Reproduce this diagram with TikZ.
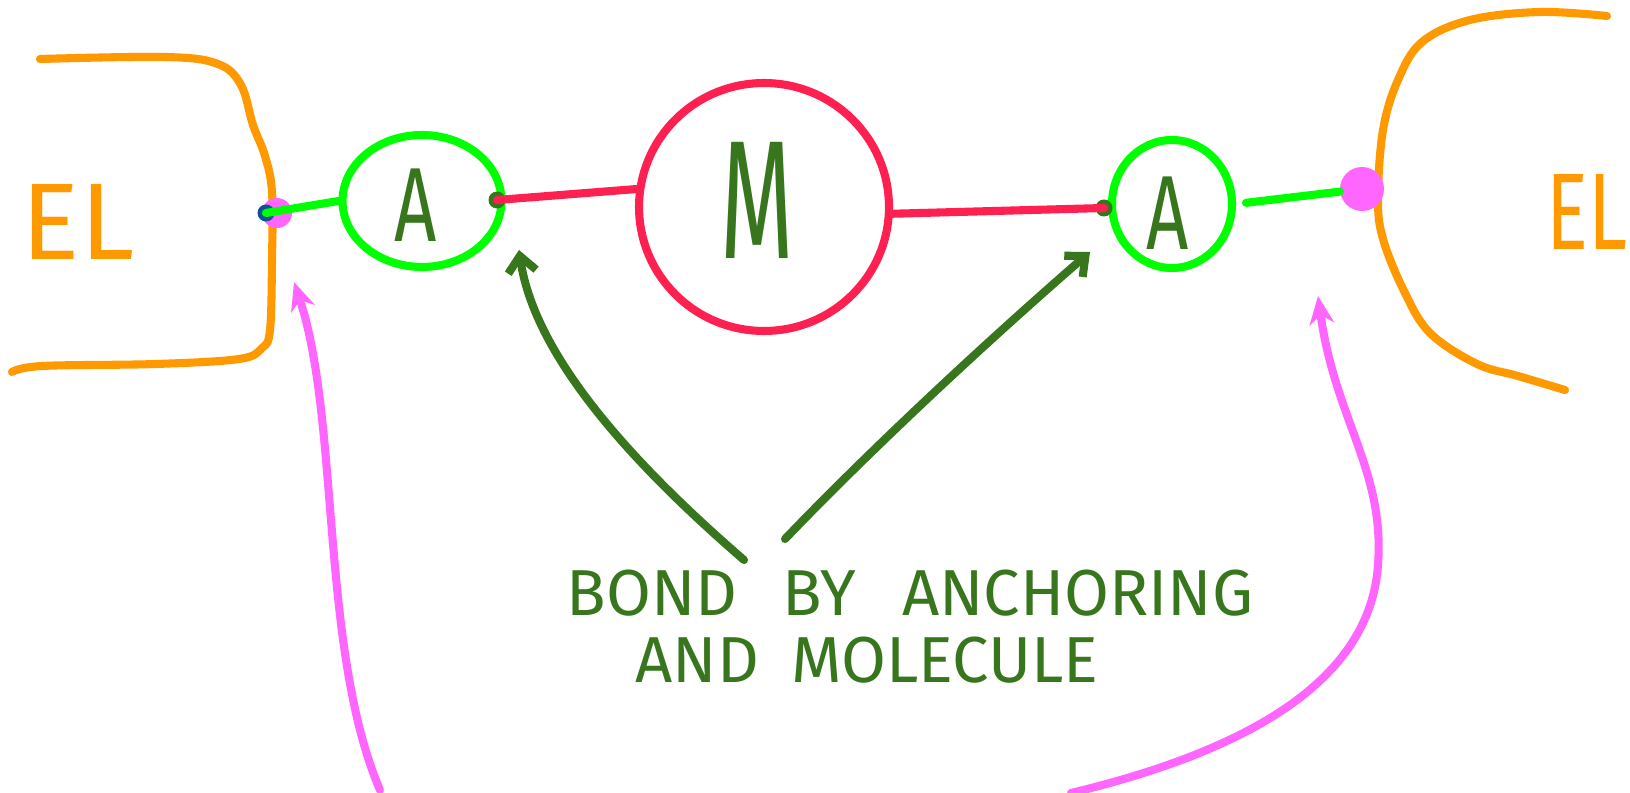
\documentclass[tikz,border=0pt]{standalone}
\usepackage{fontspec}
\setmainfont{Fira Sans}
\usetikzlibrary{shapes.geometric,arrows.meta}
\definecolor{elorange}{HTML}{FF9900}
\definecolor{agreen}{HTML}{00FF00}
\definecolor{dgreen}{HTML}{38761D}
\definecolor{mred}{HTML}{FF2052}
\definecolor{ppink}{HTML}{FF66FF}
\definecolor{dblue}{HTML}{0B5394}
\begin{document}
\begin{tikzpicture}[x=0.02cm,y=-0.02cm, line cap=round, line join=round,
 electrode/.style={draw=elorange, line width=4.6pt},
 ring/.style={draw=agreen, line width=4.6pt, ellipse, inner sep=0pt},
 mring/.style={draw=mred, line width=4.6pt, ellipse, inner sep=0pt},
 bondline/.style={draw=mred, line width=4.6pt},
 linker/.style={draw=agreen, line width=4.6pt},
 garrow/.style={draw=dgreen, line width=4.6pt, -{Straight Barb[length=9pt,width=16pt]}},
 parrow/.style={draw=ppink, line width=4.6pt, -{Stealth[length=16pt,width=14pt]}},
 eltext/.style={text=elorange, inner sep=0pt},
 atext/.style={text=dgreen, inner sep=0pt},
 captext/.style={text=dgreen, font=\fontsize{37}{38}\selectfont, inner sep=0pt, text height=0.7em, text depth=0pt},
 dot/.style={circle, inner sep=0pt},
]
\useasboundingbox (0,0) rectangle (1630,793);
\fill[white] (0,0) rectangle (1630,793);

% electrodes
\draw[electrode] plot[smooth, tension=0.6] coordinates {(40,59) (166,57) (218,64) (241,85) (253,125) (265,156) (272,192) (272,260) (270,330) (262,348) (239,359) (156,364) (42,366) (12,372)};
\draw[electrode] plot[smooth, tension=0.6] coordinates {(1607,16) (1540,12) (1470,20) (1422,42) (1398,80) (1383,130) (1378,198) (1383,239) (1404,291) (1430,333) (1477,364) (1518,376) (1565,390)};
\node[eltext] (elL) at (78,222) {\fontsize{62}{62}\selectfont EL};
\node[eltext] (elR) at (1587,212) {\scalebox{0.72}[1]{\fontsize{62}{62}\selectfont EL}};

% rings
\node[ring, minimum width=3.18cm, minimum height=2.64cm] (aL) at (422,201) {};
\node[atext] (aLt) at (416,205) {\scalebox{0.7}[1]{\fontsize{60}{60}\selectfont A}};
\node[mring, minimum width=5cm, minimum height=4.96cm] (M) at (764,207) {};
\node[atext] (Mt) at (757,200) {\scalebox{0.56}[1]{\fontsize{96}{96}\selectfont M}};
\node[ring, minimum width=2.4cm, minimum height=2.56cm] (aR) at (1172,204) {};
\node[atext] (aRt) at (1168,213) {\scalebox{0.7}[1]{\fontsize{60}{60}\selectfont A}};

% dots
\node[dot, fill=ppink, minimum size=0.6cm] (lpin) at (277,213) {};
\node[dot, fill=dblue, minimum size=0.34cm] (lblue) at (266,213) {};
\node[dot, fill=ppink, minimum size=0.88cm] (rpin) at (1362,189) {};
\node[dot, fill=dgreen, minimum size=0.34cm] (lhit) at (497,200) {};
\node[dot, fill=dgreen, minimum size=0.34cm] (rhit) at (1104,208) {};

% links
\draw[linker] (lblue.center) -- (aL.west);
\draw[bondline] (lhit.center) -- (M.172);
\draw[bondline] (M.-3) -- (rhit.center);
\draw[linker, shorten <=0.2cm] (aR.east) -- (rpin);

% caption
\node[captext] (txt1) at (910,609) {BOND\hspace{0.7em}BY\hspace{0.7em}ANCHORING};
\node[captext] (txt2) at (867,676) {AND\hspace{0.5em}MOLECULE};

% green arrows
\coordinate (g1s) at (744,560);
\coordinate (g1e) at (519,250);
\coordinate (g2s) at (785,539);
\coordinate (g2e) at (1090,252);
\draw[garrow] (g1s) .. controls (640,470) and (535,360) .. (g1e);
\draw[garrow] (g2s) .. controls (880,440) and (1000,330) .. (g2e);

% pink arrows
\coordinate (p1s) at (380,790);
\coordinate (p1e) at (294,282);
\coordinate (p2s) at (1071,793);
\coordinate (p2e) at (1318,296);
\draw[parrow] (p1s) .. controls (320,650) and (340,420) .. (p1e);
\draw[parrow] (p2s) .. controls (1250,750) and (1370,680) .. (1378,565) .. controls (1385,470) and (1335,420) .. (p2e);
\end{tikzpicture}
\end{document}
